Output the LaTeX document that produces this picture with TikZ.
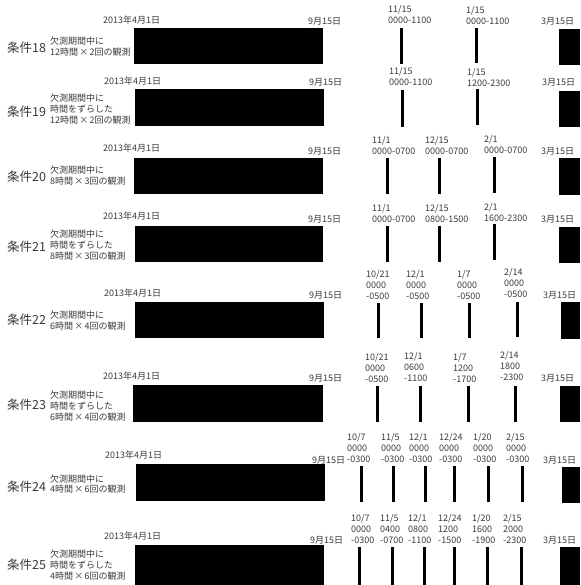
\documentclass[tikz,border=0pt]{standalone}
\usepackage{fontspec}
\setmainfont{Noto Sans CJK JP}
\definecolor{txt}{HTML}{3A3A3A}
\newcommand{\tms}{\kern1.2pt×\kern1.2pt}
\begin{document}
\begin{tikzpicture}[x=1pt,y=-1pt,
  lbl/.style={inner sep=0pt,anchor=west,text=txt,align=left,font=\fontsize{9}{11}\selectfont},
  desc/.style={inner sep=0pt,anchor=west,text=txt,align=left,font=\fontsize{9}{10.8}\selectfont},
  cond/.style={inner sep=0pt,anchor=west,text=txt,font=\fontsize{12.5}{14}\selectfont},
  blk/.style={fill=black},
  obsbar/.style={line width=3pt,black}]
\useasboundingbox (0,0) rectangle (580,585);
% ---------- row 18
\node[cond] (c18) at (7,48) {条件18};
\node[desc] (d18) at (50,46.5) {欠測期間中に\\12時間\tms 2回の観測};
\node[lbl] (s18) at (103,20) {2013年4月1日};
\node[lbl] (m18) at (308,21) {9月15日};
\node[lbl] (e18) at (541,21) {3月15日};
\fill[blk] (134,28) rectangle (323,64);
\fill[blk] (559,29) rectangle (580,65);
\node[lbl] (a18) at (388,14.5) {11/15\\0000-1100};
\node[lbl] (b18) at (466,15.5) {1/15\\0000-1100};
\draw[obsbar] (401,28) -- (401,64);
\draw[obsbar] (476,28) -- (476,63);
% ---------- row 19
\node[cond] (c19) at (7,112) {条件19};
\node[desc] (d19) at (50,109) {欠測期間中に\\時間をずらした\\12時間\tms 2回の観測};
\node[lbl] (s19) at (104,81) {2013年4月1日};
\node[lbl] (m19) at (309,82) {9月15日};
\node[lbl] (e19) at (542,82) {3月15日};
\fill[blk] (135,89) rectangle (324,126);
\fill[blk] (559,91) rectangle (580,127);
\node[lbl] (a19) at (389,76) {11/15\\0000-1100};
\node[lbl] (b19) at (467,77) {1/15\\1200-2300};
\draw[obsbar] (402,90) -- (402,127);
\draw[obsbar] (477,89) -- (477,125);
% ---------- row 20
\node[cond] (c20) at (7,177) {条件20};
\node[desc] (d20) at (50,175.5) {欠測期間中に\\8時間\tms 3回の観測};
\node[lbl] (s20) at (103,148) {2013年4月1日};
\node[lbl] (m20) at (308,151) {9月15日};
\node[lbl] (e20) at (541,151) {3月15日};
\fill[blk] (134,158) rectangle (323,194);
\fill[blk] (559,158) rectangle (580,195);
\node[lbl] (a20) at (372,145.5) {11/1\\0000-0700};
\node[lbl] (b20) at (425,145.5) {12/15\\0000-0700};
\node[lbl] (f20) at (484,144) {2/1\\0000-0700};
\draw[obsbar] (387,158) -- (387,194);
\draw[obsbar] (439,158) -- (439,194);
\draw[obsbar] (494,157) -- (494,193);
% ---------- row 21
\node[cond] (c21) at (7,247) {条件21};
\node[desc] (d21) at (50,245) {欠測期間中に\\時間をずらした\\8時間\tms 3回の観測};
\node[lbl] (s21) at (103,216) {2013年4月1日};
\node[lbl] (m21) at (308,219) {9月15日};
\node[lbl] (e21) at (541,219) {3月15日};
\fill[blk] (135,226) rectangle (323,262);
\fill[blk] (559,227) rectangle (580,263);
\node[lbl] (a21) at (372,213.5) {11/1\\0000-0700};
\node[lbl] (b21) at (425,213.5) {12/15\\0800-1500};
\node[lbl] (f21) at (484,212.5) {2/1\\1600-2300};
\draw[obsbar] (387,226) -- (387,262);
\draw[obsbar] (439,226) -- (439,262);
\draw[obsbar] (494,224) -- (494,260);
% ---------- row 22
\node[cond] (c22) at (7,320) {条件22};
\node[desc] (d22) at (50,320.5) {欠測期間中に\\6時間\tms 4回の観測};
\node[lbl] (s22) at (104,293) {2013年4月1日};
\node[lbl] (m22) at (309,295) {9月15日};
\node[lbl] (e22) at (543,295) {3月15日};
\fill[blk] (135,302) rectangle (324,338);
\fill[blk] (561,302) rectangle (580,339);
\node[lbl] (a22) at (366,285) {10/21\\0000\\-0500};
\node[lbl] (b22) at (406,285) {12/1\\0000\\-0500};
\node[lbl] (f22) at (457,285) {1/7\\0000\\-0500};
\node[lbl] (g22) at (504,283) {2/14\\0000\\-0500};
\draw[obsbar] (378,303) -- (378,338);
\draw[obsbar] (421,303) -- (421,338);
\draw[obsbar] (469,303) -- (469,338);
\draw[obsbar] (517,302) -- (517,337);
% ---------- row 23
\node[cond] (c23) at (7,405) {条件23};
\node[desc] (d23) at (50,406) {欠測期間中に\\時間をずらした\\6時間\tms 4回の観測};
\node[lbl] (s23) at (103,376) {2013年4月1日};
\node[lbl] (m23) at (309,378) {9月15日};
\node[lbl] (e23) at (541,378) {3月15日};
\fill[blk] (133,385) rectangle (323,422);
\fill[blk] (560,386) rectangle (580,422);
\node[lbl] (a23) at (365,368) {10/21\\0000\\-0500};
\node[lbl] (b23) at (404,367) {12/1\\0600\\-1100};
\node[lbl] (f23) at (453,368) {1/7\\1200\\-1700};
\node[lbl] (g23) at (500,366) {2/14\\1800\\-2300};
\draw[obsbar] (377,386) -- (377,422);
\draw[obsbar] (420,386) -- (420,422);
\draw[obsbar] (468,386) -- (468,422);
\draw[obsbar] (515,386) -- (515,422);
% ---------- row 24
\node[cond] (c24) at (7,487) {条件24};
\node[desc] (d24) at (50,484) {欠測期間中に\\4時間\tms 6回の観測};
\node[lbl] (s24) at (105,455) {2013年4月1日};
\node[lbl] (m24) at (312,460) {9月15日};
\node[lbl] (e24) at (543,460) {3月15日};
\fill[blk] (136,464) rectangle (325,501);
\fill[blk] (562,467) rectangle (580,503);
\node[lbl] (a24) at (347,448) {10/7\\0000\\-0300};
\node[lbl] (b24) at (381,448) {11/5\\0000\\-0300};
\node[lbl] (f24) at (409,448) {12/1\\0000\\-0300};
\node[lbl] (g24) at (439,448) {12/24\\0000\\-0300};
\node[lbl] (h24) at (473,448) {1/20\\0000\\-0300};
\node[lbl] (k24) at (506,448) {2/15\\0000\\-0300};
\draw[obsbar] (361,466) -- (361,502);
\draw[obsbar] (393,466) -- (393,502);
\draw[obsbar] (425,466) -- (425,502);
\draw[obsbar] (454,466) -- (454,502);
\draw[obsbar] (488,466) -- (488,502);
\draw[obsbar] (522,466) -- (522,502);
% ---------- row 25
\node[cond] (c25) at (7,565) {条件25};
\node[desc] (d25) at (50,565) {欠測期間中に\\時間をずらした\\4時間\tms 6回の観測};
\node[lbl] (s25) at (104,536) {2013年4月1日};
\node[lbl] (m25) at (310,540) {9月15日};
\node[lbl] (e25) at (543,540) {3月15日};
\fill[blk] (135,545) rectangle (324,585);
\fill[blk] (560,547) rectangle (580,585);
\node[lbl] (a25) at (351,529) {10/7\\0000\\-0300};
\node[lbl] (b25) at (380,529) {11/5\\0400\\-0700};
\node[lbl] (f25) at (408,529) {12/1\\0800\\-1100};
\node[lbl] (g25) at (438,529) {12/24\\1200\\-1500};
\node[lbl] (h25) at (472,529) {1/20\\1600\\-1900};
\node[lbl] (k25) at (503,529) {2/15\\2000\\-2300};
\draw[obsbar] (359,547) -- (359,585);
\draw[obsbar] (392,547) -- (392,585);
\draw[obsbar] (424,547) -- (424,585);
\draw[obsbar] (454,547) -- (454,585);
\draw[obsbar] (487,547) -- (487,585);
\draw[obsbar] (521,547) -- (521,585);
\end{tikzpicture}
\end{document}
